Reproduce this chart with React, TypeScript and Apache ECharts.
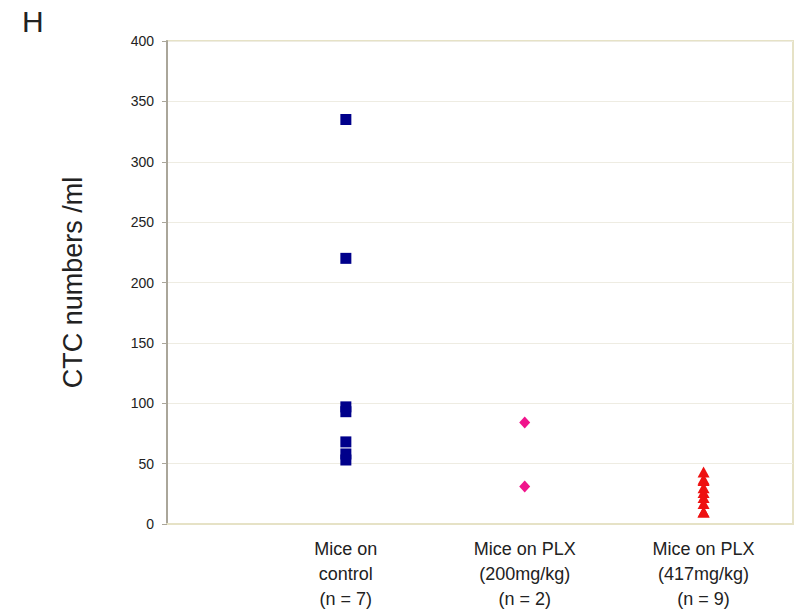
import React, { useEffect, useRef } from "react";
import * as echarts from "echarts";

const categories = ["Mice on\ncontrol\n(n = 7)", "Mice on PLX\n(200mg/kg)\n(n = 2)", "Mice on PLX\n(417mg/kg)\n(n = 9)"];
const controlValues = [335, 220, 97, 93, 68, 58, 53];
const plx200Values = [84, 31];
const plx417Values = [43, 37, 36, 30, 26, 22, 17, 10, 10];
const yTicks = { min: 0, max: 400, interval: 50 };

export default function App() {
  const ref = useRef<HTMLDivElement>(null);
  useEffect(() => {
    if (!ref.current) return;
    const chart = echarts.init(ref.current, undefined, { renderer: "svg" });
    const font = "Liberation Sans, Arial, sans-serif";
    chart.setOption({
      animation: false,
      backgroundColor: "#ffffff",
      textStyle: { fontFamily: font },
      graphic: [
        { type: "text", left: 22, top: 6, style: { text: "H", font: "30px " + font, fill: "#222" } },
      ],
      grid: {
        left: 167, right: 12, top: 41, bottom: 87,
        show: true, borderColor: "#e6e2c6", borderWidth: 2, backgroundColor: "transparent",
      },
      xAxis: {
        type: "value", min: 0, max: 3.5, interval: 1,
        axisLine: { show: true, lineStyle: { color: "#e6e2c6", width: 2 } },
        axisTick: { show: false },
        splitLine: { show: false },
        axisLabel: {
          margin: 12, fontSize: 18, lineHeight: 25, color: "#222", fontFamily: font,
          formatter: (v: number) => (v >= 1 && v <= 3 && Number.isInteger(v) ? categories[v - 1] : ""),
        },
      },
      yAxis: {
        type: "value", ...yTicks,
        name: "CTC numbers /ml", nameLocation: "middle", nameGap: 81, nameRotate: 90,
        nameTextStyle: { fontSize: 27, color: "#222", fontFamily: font },
        axisLine: { show: true, lineStyle: { color: "#aaa69a", width: 2 } },
        axisTick: { show: true, inside: false, length: 5, lineStyle: { color: "#aaa69a" } },
        splitLine: { show: true, lineStyle: { color: "#eeece2", width: 1 } },
        axisLabel: { margin: 13, fontSize: 14, color: "#222", fontFamily: font },
      },
      series: [
        { type: "scatter", symbol: "rect", symbolSize: 11, itemStyle: { color: "#00008b", opacity: 1 }, data: controlValues.map((v) => [1, v]) },
        { type: "scatter", symbol: "diamond", symbolSize: [11, 12], itemStyle: { color: "#f0148c", opacity: 1 }, data: plx200Values.map((v) => [2, v]) },
        { type: "scatter", symbol: "triangle", symbolSize: [12, 11], itemStyle: { color: "#ee1111", opacity: 1 }, data: plx417Values.map((v) => [3, v]) },
      ],
    });
    return () => chart.dispose();
  }, []);
  return <div ref={ref} style={{ width: 805, height: 611, position: "absolute", left: 0, top: 0 }} />;
}
